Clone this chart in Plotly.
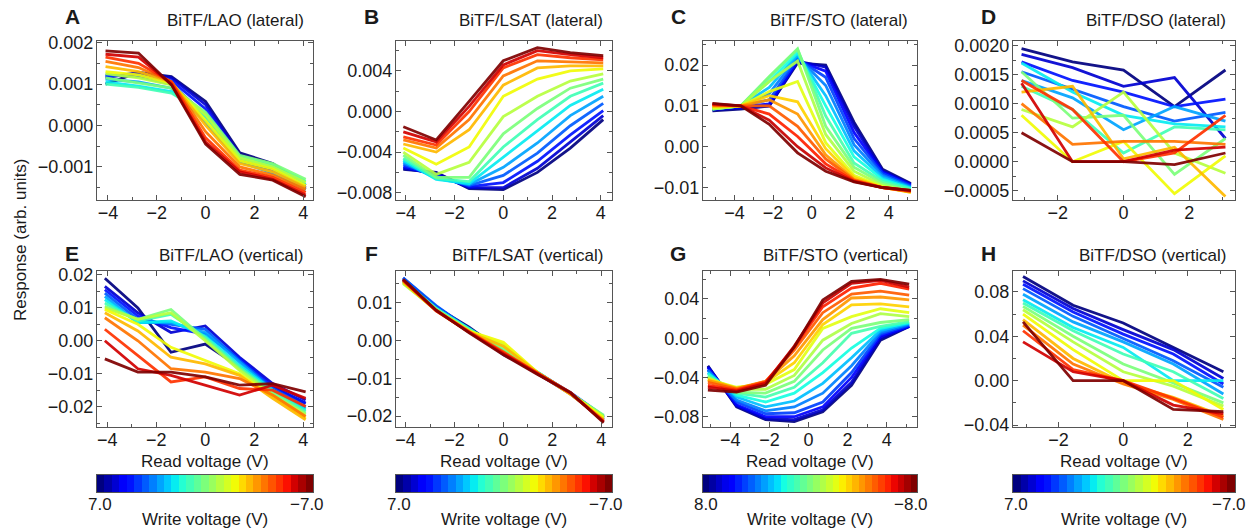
import plotly.graph_objects as go
from plotly.colors import sample_colorscale

W, H = 1252, 529

# ---- data -----------------------------------------------------------------
# read voltages (x) for each panel
read_4 = [-4.1, -2.75, -1.4, 0.0, 1.4, 2.75, 4.1]
read_5 = [-5.15, -3.68, -2.2, -0.73, 0.73, 2.2, 3.68, 5.15]
read_3 = [-3.1, -1.55, 0.0, 1.55, 3.1]

# write voltages of the curves
write_7 = [7, 6, 5, 4, 3, 2, 1, 0, -1, -2, -3, -4, -5, -6, -7]
write_8 = [8, 7, 6, 5, 4, 3, 2, 1, 0, -1, -2, -3, -4, -5, -6, -7, -8]

# colour bar steps
bar_7 = [7.0, 6.5, 6.0, 5.5, 5.0, 4.5, 4.0, 3.5, 3.0, 2.5, 2.0, 1.5, 1.0, 0.5, 0.0,
         -0.5, -1.0, -1.5, -2.0, -2.5, -3.0, -3.5, -4.0, -4.5, -5.0, -5.5, -6.0, -6.5, -7.0]
bar_8 = [8.0, 7.5, 7.0, 6.5, 6.0, 5.5, 5.0, 4.5, 4.0, 3.5, 3.0, 2.5, 2.0, 1.5, 1.0, 0.5, 0.0,
         -0.5, -1.0, -1.5, -2.0, -2.5, -3.0, -3.5, -4.0, -4.5, -5.0, -5.5, -6.0, -6.5, -7.0, -7.5, -8.0]

# A  BiTF/LAO lateral  (x 1e-3)
lao_lat = [
    [1.00, 1.28, 1.18, 0.58, -0.66, -0.92, -1.45],
    [1.15, 1.28, 1.15, 0.50, -0.72, -1.00, -1.50],
    [1.20, 1.22, 1.08, 0.40, -0.78, -1.05, -1.52],
    [1.22, 1.18, 1.00, 0.25, -0.85, -1.10, -1.55],
    [1.12, 1.05, 0.90, 0.08, -0.88, -1.15, -1.55],
    [1.05, 0.95, 0.82, 0.20, -0.80, -1.00, -1.42],
    [1.00, 0.92, 0.78, 0.28, -0.75, -0.95, -1.35],
    [1.15, 1.02, 0.90, 0.32, -0.72, -0.92, -1.30],
    [1.25, 1.15, 0.98, 0.25, -0.78, -1.00, -1.38],
    [1.30, 1.22, 1.02, 0.12, -0.85, -1.05, -1.45],
    [1.42, 1.30, 1.05, 0.00, -0.92, -1.12, -1.50],
    [1.55, 1.40, 1.05, -0.15, -1.00, -1.20, -1.55],
    [1.65, 1.50, 1.05, -0.30, -1.08, -1.25, -1.62],
    [1.72, 1.65, 1.00, -0.40, -1.12, -1.30, -1.68],
    [1.80, 1.75, 0.98, -0.45, -1.18, -1.32, -1.72],
]

# B  BiTF/LSAT lateral  (x 1e-3)
lsat_lat = [
    [-5.7, -6.0, -7.6, -7.7, -6.0, -3.6, -0.8],
    [-5.6, -6.1, -7.5, -7.5, -5.6, -3.0, -0.4],
    [-5.4, -6.3, -7.4, -7.0, -4.9, -2.3, 0.1],
    [-5.2, -6.4, -7.3, -6.3, -4.1, -1.4, 0.8],
    [-5.0, -6.6, -7.2, -5.5, -3.1, -0.4, 1.5],
    [-4.8, -6.7, -7.1, -4.5, -1.9, 0.6, 2.2],
    [-4.6, -6.6, -6.9, -3.5, -0.8, 1.5, 2.8],
    [-4.3, -6.5, -6.5, -2.2, 0.3, 2.3, 3.2],
    [-4.0, -6.2, -5.0, -0.5, 1.5, 3.0, 3.7],
    [-3.6, -5.2, -3.5, 1.5, 3.2, 4.0, 4.2],
    [-3.2, -4.0, -1.8, 2.6, 4.3, 4.5, 4.5],
    [-2.8, -3.6, -0.8, 3.5, 5.0, 4.9, 4.8],
    [-2.5, -3.3, 0.0, 4.3, 5.6, 5.3, 5.1],
    [-2.0, -3.0, 0.5, 4.6, 6.0, 5.6, 5.3],
    [-1.5, -2.8, 1.0, 5.0, 6.3, 5.8, 5.5],
]

# C  BiTF/STO lateral  (x 1e-2)
sto_lat = [
    [0.88, 0.92, 1.00, 2.05, 2.00, 0.60, -0.55, -0.90],
    [0.90, 0.95, 1.00, 2.10, 1.95, 0.50, -0.60, -0.92],
    [0.92, 0.97, 1.05, 2.10, 1.85, 0.35, -0.62, -0.94],
    [0.93, 1.00, 1.15, 2.15, 1.70, 0.20, -0.65, -0.96],
    [0.94, 1.00, 1.30, 2.20, 1.50, 0.05, -0.70, -0.98],
    [0.94, 1.00, 1.45, 2.25, 1.25, -0.10, -0.75, -1.00],
    [0.93, 1.00, 1.60, 2.30, 1.00, -0.25, -0.80, -1.02],
    [0.92, 1.00, 1.70, 2.38, 0.75, -0.40, -0.85, -1.04],
    [0.92, 1.00, 1.72, 2.40, 0.50, -0.50, -0.90, -1.08],
    [0.93, 1.00, 1.60, 2.10, 0.30, -0.60, -0.95, -1.10],
    [0.95, 1.00, 1.35, 1.60, 0.10, -0.70, -0.98, -1.12],
    [0.98, 1.00, 1.25, 1.10, -0.05, -0.75, -1.00, -1.12],
    [1.00, 1.00, 1.15, 0.80, -0.20, -0.80, -1.00, -1.10],
    [1.02, 1.00, 1.00, 0.50, -0.30, -0.82, -1.00, -1.10],
    [1.03, 1.00, 0.80, 0.25, -0.42, -0.84, -1.00, -1.08],
    [1.05, 1.00, 0.65, 0.00, -0.52, -0.85, -1.00, -1.07],
    [1.06, 1.00, 0.55, -0.15, -0.60, -0.86, -1.00, -1.07],
]

# D  BiTF/DSO lateral  (x 1e-3)
dso_lat = [
    [1.95, 1.72, 1.58, 0.95, 1.58],
    [1.85, 1.62, 1.30, 1.45, 0.40],
    [1.72, 1.40, 1.20, 0.95, 1.08],
    [1.55, 1.25, 0.95, 0.70, 0.85],
    [1.40, 1.10, 0.55, 0.95, 0.70],
    [1.70, 1.20, 0.80, 0.65, 0.60],
    [1.30, 0.90, 0.15, 0.60, 0.55],
    [1.55, 0.75, 0.80, -0.22, 0.40],
    [0.90, 0.60, 1.20, 0.15, -0.20],
    [0.80, 0.00, 0.35, -0.55, 0.10],
    [1.20, 1.30, 0.05, 0.25, -0.60],
    [1.00, 0.30, 0.35, 0.35, 0.30],
    [1.40, 0.90, 0.00, 0.15, 0.80],
    [1.35, 0.00, 0.00, 0.20, 0.25],
    [0.50, 0.00, 0.00, -0.05, 0.15],
]

# E  BiTF/LAO vertical  (x 1e-2)
lao_ver = [
    [1.90, 1.00, -0.35, -0.10, -0.80, -1.40, -1.90],
    [1.65, 0.85, 0.25, 0.45, -0.50, -1.30, -1.80],
    [1.55, 0.75, 0.40, 0.20, -0.55, -1.40, -1.90],
    [1.45, 0.65, 0.50, 0.35, -0.60, -1.45, -2.00],
    [1.35, 0.55, 0.55, 0.25, -0.65, -1.50, -2.05],
    [1.25, 0.55, 0.60, 0.15, -0.75, -1.50, -2.10],
    [1.15, 0.60, 0.80, 0.10, -0.80, -1.55, -2.15],
    [1.05, 0.65, 0.95, 0.05, -0.85, -1.60, -2.20],
    [1.00, 0.65, 0.85, 0.00, -0.90, -1.65, -2.25],
    [0.95, 0.50, -0.20, -0.60, -1.00, -1.70, -2.35],
    [0.85, 0.30, -0.50, -0.70, -1.05, -1.75, -2.40],
    [0.70, 0.00, -0.85, -0.95, -1.15, -1.65, -2.30],
    [0.35, -0.45, -1.25, -1.10, -1.45, -1.50, -2.00],
    [0.00, -0.85, -1.05, -1.35, -1.65, -1.35, -1.75],
    [-0.55, -0.95, -0.95, -1.10, -1.35, -1.30, -1.55],
]

# F  BiTF/LSAT vertical  (x 1e-2)
lsat_ver = [
    [1.62, 0.88, 0.35, -0.30, -0.85, -1.40, -2.05],
    [1.65, 0.90, 0.30, -0.35, -0.88, -1.42, -2.10],
    [1.60, 0.85, 0.28, -0.32, -0.86, -1.38, -2.00],
    [1.66, 0.92, 0.30, -0.38, -0.84, -1.40, -2.05],
    [1.58, 0.86, 0.27, -0.30, -0.85, -1.42, -2.08],
    [1.55, 0.84, 0.32, -0.28, -0.86, -1.40, -2.02],
    [1.57, 0.85, 0.30, -0.25, -0.85, -1.40, -2.00],
    [1.52, 0.82, 0.28, -0.20, -0.84, -1.42, -1.98],
    [1.50, 0.80, 0.25, -0.10, -0.86, -1.42, -2.02],
    [1.55, 0.80, 0.25, -0.05, -0.85, -1.40, -2.05],
    [1.55, 0.78, 0.22, -0.15, -0.86, -1.43, -2.10],
    [1.58, 0.80, 0.24, -0.30, -0.88, -1.40, -2.12],
    [1.60, 0.80, 0.22, -0.32, -0.86, -1.38, -2.15],
    [1.60, 0.78, 0.22, -0.35, -0.88, -1.40, -2.15],
    [1.62, 0.80, 0.20, -0.38, -0.90, -1.38, -2.18],
]

# G  BiTF/STO vertical  (x 1e-2)
sto_ver = [
    [-2.8, -7.0, -8.3, -8.5, -7.5, -4.8, -0.2, 1.2],
    [-2.9, -6.9, -8.2, -8.3, -7.3, -4.5, 0.0, 1.2],
    [-3.0, -6.8, -8.0, -8.0, -7.0, -4.0, 0.2, 1.2],
    [-3.2, -6.5, -7.7, -7.6, -6.5, -3.5, 0.4, 1.3],
    [-3.3, -6.3, -7.4, -7.0, -5.6, -2.8, 0.6, 1.4],
    [-3.5, -6.0, -7.0, -6.4, -4.6, -2.0, 0.8, 1.5],
    [-3.6, -5.8, -6.5, -5.6, -3.5, -1.0, 1.0, 1.6],
    [-3.8, -5.6, -6.0, -5.0, -2.5, 0.5, 1.2, 1.7],
    [-4.0, -5.5, -5.6, -4.4, -1.2, 1.0, 1.6, 1.9],
    [-4.0, -5.2, -5.2, -3.8, -0.2, 1.5, 2.5, 2.2],
    [-4.2, -5.0, -4.7, -3.2, 1.0, 2.2, 3.0, 2.6],
    [-4.2, -5.1, -4.5, -2.5, 1.4, 3.4, 3.5, 3.2],
    [-4.3, -5.1, -4.4, -1.8, 1.9, 4.1, 4.2, 3.9],
    [-4.5, -5.2, -4.4, -1.2, 2.6, 4.5, 4.8, 4.4],
    [-4.8, -5.3, -4.5, -0.9, 3.2, 5.1, 5.6, 5.0],
    [-5.0, -5.4, -4.6, -0.8, 3.6, 5.6, 5.9, 5.2],
    [-5.3, -5.5, -4.8, -0.9, 3.9, 5.8, 6.0, 5.5],
]

# H  BiTF/DSO vertical  (x 1e-2)
dso_ver = [
    [9.4, 6.8, 5.2, 3.0, 0.8],
    [9.0, 6.5, 4.6, 2.8, 0.2],
    [8.7, 6.2, 4.2, 2.4, -0.3],
    [8.3, 5.8, 3.8, 1.8, -0.6],
    [7.8, 5.3, 3.5, 1.5, -1.2],
    [7.3, 4.8, 3.0, 0.0, 0.0],
    [7.0, 4.5, 2.4, 0.8, -1.6],
    [6.7, 4.0, 1.5, -0.2, -2.0],
    [6.4, 3.5, 0.8, -0.5, -2.3],
    [6.0, 2.8, 0.0, 0.0, -2.6],
    [5.5, 2.0, -0.2, -1.5, -3.2],
    [5.0, 1.5, -0.3, -1.7, -3.5],
    [4.5, 1.0, 0.0, -1.6, -3.3],
    [3.5, 0.8, 0.0, -2.2, -3.0],
    [5.3, 0.0, 0.0, -2.6, -2.8],
]

# ---- style ------------------------------------------------------------------
JET = [
    [0.0, "rgb(0,0,127)"], [0.11, "rgb(0,0,255)"], [0.125, "rgb(0,0,255)"],
    [0.34, "rgb(0,219,255)"], [0.35, "rgb(0,229,247)"], [0.375, "rgb(21,255,226)"],
    [0.64, "rgb(239,255,8)"], [0.65, "rgb(247,245,0)"], [0.66, "rgb(255,236,0)"],
    [0.89, "rgb(255,19,0)"], [0.91, "rgb(232,0,0)"], [1.0, "rgb(127,0,0)"],
]
FONT = "Liberation Sans, Arial, sans-serif"
TXT = "#1a1a1a"
FRAME = "#555555"

cols = [(97, 313), (396, 612), (703, 917), (1013, 1235)]
rows = [(41, 200), (271, 427)]
bar_y = (475, 492)

panels = [
    # letter, title, x, curves, writes, scale, xrange, yrange, ydtick, yfmt, xdtick
    ("A", "BiTF/LAO (lateral)", read_4, lao_lat, write_7, 1e-3, [-4.45, 4.4], [-0.0018, 0.00204], 0.001, ".3f", 2),
    ("B", "BiTF/LSAT (lateral)", read_4, lsat_lat, write_7, 1e-3, [-4.4, 4.46], [-0.00872, 0.00695], 0.004, ".3f", 2),
    ("C", "BiTF/STO (lateral)", read_5, sto_lat, write_8, 1e-2, [-5.64, 5.47], [-0.01306, 0.0259], 0.01, ".2f", 2),
    ("D", "BiTF/DSO (lateral)", read_3, dso_lat, write_7, 1e-3, [-3.36, 3.39], [-0.00066, 0.00208], 0.0005, ".4f", 2),
    ("E", "BiTF/LAO (vertical)", read_4, lao_ver, write_7, 1e-2, [-4.42, 4.4], [-0.0262, 0.0212], 0.01, ".2f", 2),
    ("F", "BiTF/LSAT (vertical)", read_4, lsat_ver, write_7, 1e-2, [-4.39, 4.44], [-0.0229, 0.01838], 0.01, ".2f", 2),
    ("G", "BiTF/STO (vertical)", read_5, sto_ver, write_8, 1e-2, [-5.4, 5.55], [-0.0905, 0.0685], 0.04, ".2f", 2),
    ("H", "BiTF/DSO (vertical)", read_3, dso_ver, write_7, 1e-2, [-3.41, 3.46], [-0.0418, 0.0989], 0.04, ".2f", 2),
]
bars = [bar_7, bar_7, bar_8, bar_7]


def px_x(a, b):
    return [a / W, b / W]


def px_y(top, bottom):
    return [1 - bottom / H, 1 - top / H]


fig = go.Figure()
layout = dict(
    width=W, height=H, margin=dict(l=0, r=0, t=0, b=0, autoexpand=False),
    paper_bgcolor="white", plot_bgcolor="white", showlegend=False,
    font=dict(family=FONT, size=17, color=TXT),
)
annotations = []

for i, (letter, title, xs, curves, writes, scale, xr, yr, ydt, yfmt, xdt) in enumerate(panels):
    n = i + 1
    col = cols[i % 4]
    row = rows[i // 4]
    vmax = max(writes)
    for wv, ys in zip(writes, curves):
        c = sample_colorscale(JET, [(vmax - wv) / (2 * vmax)])[0]
        fig.add_trace(go.Scatter(
            x=xs, y=[v * scale for v in ys], mode="lines",
            line=dict(color=c, width=2.8), opacity=0.92,
            xaxis="x%d" % n, yaxis="y%d" % n, hoverinfo="skip"))
    common = dict(showgrid=False, zeroline=False, showline=True, linecolor=FRAME,
                  linewidth=1.3, mirror="allticks", ticks="inside", ticklen=5,
                  tickcolor=FRAME, tickwidth=1, tickfont=dict(size=18, color=TXT),
                  automargin=False)
    layout["xaxis%d" % n] = dict(
        common, domain=px_x(*col), range=xr, dtick=xdt, tick0=0,
        anchor="y%d" % n, ticklabelstandoff=-4,
        minor=dict(dtick=xdt / 2, ticks="inside", ticklen=3, tickcolor=FRAME))
    layout["yaxis%d" % n] = dict(
        common, domain=px_y(*row), range=yr, dtick=ydt, tick0=0,
        tickformat=yfmt, anchor="x%d" % n, ticklabelstandoff=-1,
        minor=dict(dtick=ydt / 2, ticks="inside", ticklen=3, tickcolor=FRAME))

    ty = 17 if i < 4 else 253
    annotations.append(dict(text="<b>%s</b>" % letter, x=(col[0] - 25) / W, y=1 - ty / H,
                            xref="paper", yref="paper", showarrow=False,
                            font=dict(size=21, color=TXT), xanchor="center", yanchor="middle"))
    annotations.append(dict(text=title, x=(col[1] - 7) / W, y=1 - (ty + 3) / H,
                            xref="paper", yref="paper", showarrow=False,
                            font=dict(size=17, color=TXT), xanchor="right", yanchor="middle"))

# colour bars
for j in range(4):
    n = 9 + j
    col = cols[j]
    vals = bars[j]
    fig.add_trace(go.Heatmap(
        z=[vals], x=list(range(len(vals))), y=[0],
        colorscale=JET, zmin=min(vals), zmax=max(vals), reversescale=True,
        showscale=False, xaxis="x%d" % n, yaxis="y%d" % n, hoverinfo="skip"))
    layout["xaxis%d" % n] = dict(domain=px_x(*col), range=[-0.5, len(vals) - 0.5],
                                 showticklabels=False, ticks="", showgrid=False, zeroline=False,
                                 showline=True, mirror=True, linecolor=FRAME, linewidth=1.3,
                                 anchor="y%d" % n, automargin=False)
    layout["yaxis%d" % n] = dict(domain=px_y(*bar_y), range=[-0.5, 0.5],
                                 showticklabels=False, ticks="", showgrid=False, zeroline=False,
                                 showline=True, mirror=True, linecolor=FRAME, linewidth=1.3,
                                 anchor="x%d" % n, automargin=False)
    lo = "%.1f" % max(vals)
    hi = "\u2212%.1f" % max(vals)
    annotations.append(dict(text=lo, x=(col[0] + 3) / W, y=1 - 504 / H, xref="paper", yref="paper",
                            showarrow=False, xanchor="center", yanchor="middle"))
    annotations.append(dict(text=hi, x=(col[1] - 6) / W, y=1 - 504 / H, xref="paper", yref="paper",
                            showarrow=False, xanchor="center", yanchor="middle"))
    annotations.append(dict(text="Write voltage (V)", x=(col[0] + col[1]) / 2 / W, y=1 - 519 / H,
                            xref="paper", yref="paper", showarrow=False,
                            xanchor="center", yanchor="middle"))
    annotations.append(dict(text="Read voltage (V)", x=(col[0] + col[1]) / 2 / W, y=1 - 461 / H,
                            xref="paper", yref="paper", showarrow=False,
                            xanchor="center", yanchor="middle"))

annotations.append(dict(text="Response (arb. units)", x=20 / W, y=1 - 240 / H, xref="paper",
                        yref="paper", showarrow=False, textangle=-90,
                        xanchor="center", yanchor="middle"))

layout["annotations"] = annotations
fig.update_layout(**layout)
fig.write_html("out.html", config={"displayModeBar": False},
               post_script="document.body.style.margin='0';")
